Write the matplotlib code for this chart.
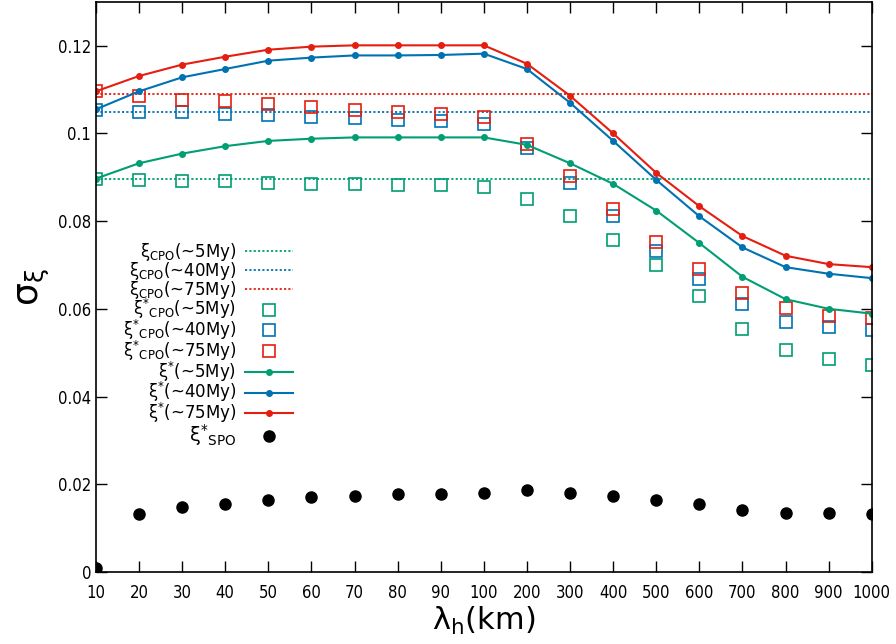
import numpy as np
import matplotlib as mpl
mpl.use("Agg")
import matplotlib.pyplot as plt

mpl.rcParams["xtick.top"] = mpl.rcParams["ytick.right"] = True
mpl.rcParams["xtick.direction"] = mpl.rcParams["ytick.direction"] = "in"
mpl.rcParams["mathtext.default"] = "regular"

# x categories (lambda_h in km)
lam = ["10", "20", "30", "40", "50", "60", "70", "80", "90", "100",
       "200", "300", "400", "500", "600", "700", "800", "900", "1000"]

# xi_CPO reference levels
cpo_5 = 0.0897
cpo_40 = 0.1048
cpo_75 = 0.1089

# xi*_CPO (open squares)
cpo_star_5 = [0.0897, 0.0894, 0.0891, 0.0891, 0.0888, 0.0885, 0.0885, 0.0882, 0.0882, 0.0879,
              0.0850, 0.0811, 0.0756, 0.0699, 0.0629, 0.0555, 0.0507, 0.0485, 0.0472]
cpo_star_40 = [0.1054, 0.1049, 0.1048, 0.1044, 0.1041, 0.1038, 0.1035, 0.1031, 0.1028, 0.1022,
               0.0967, 0.0887, 0.0811, 0.0733, 0.0667, 0.0610, 0.0571, 0.0558, 0.0552]
cpo_star_75 = [0.1096, 0.1085, 0.1077, 0.1074, 0.1067, 0.1060, 0.1054, 0.1048, 0.1044, 0.1038,
               0.0975, 0.0903, 0.0827, 0.0753, 0.0690, 0.0635, 0.0601, 0.0584, 0.0578]

# xi* (lines with dots)
star_5 = [0.0897, 0.0932, 0.0954, 0.0971, 0.0983, 0.0988, 0.0991, 0.0991, 0.0991, 0.0991,
          0.0974, 0.0932, 0.0885, 0.0824, 0.0750, 0.0673, 0.0622, 0.0600, 0.0589]
star_40 = [0.1055, 0.1096, 0.1128, 0.1147, 0.1166, 0.1173, 0.1178, 0.1178, 0.1179, 0.1182,
           0.1147, 0.1070, 0.0983, 0.0894, 0.0811, 0.0740, 0.0695, 0.0680, 0.0670]
star_75 = [0.1096, 0.1131, 0.1157, 0.1175, 0.1191, 0.1198, 0.1201, 0.1201, 0.1201, 0.1201,
           0.1159, 0.1086, 0.1000, 0.0910, 0.0834, 0.0766, 0.0721, 0.0702, 0.0695]

# xi*_SPO (black dots)
spo = [0.0008, 0.0131, 0.0148, 0.0154, 0.0164, 0.0170, 0.0173, 0.0177, 0.0177, 0.0180,
       0.0186, 0.0180, 0.0173, 0.0164, 0.0154, 0.0141, 0.0135, 0.0135, 0.0131]

GREEN = "#009e73"
BLUE = "#0072b2"
RED = "#e51e10"


def main():
	fig = plt.figure(figsize=(8.96, 6.44), dpi=100)
	ax = fig.add_axes([0.107, 0.112, 0.866, 0.885])
	x = np.arange(len(lam))

	for lvl, c, lab in [(cpo_5, GREEN, r"$\xi_{CPO}$(~5My)"),
	                    (cpo_40, BLUE, r"$\xi_{CPO}$(~40My)"),
	                    (cpo_75, RED, r"$\xi_{CPO}$(~75My)")]:
		ax.plot([x[0], x[-1]], [lvl, lvl], color=c, lw=1.3, ls=(0, (1.2, 1.2)), label=lab)

	for ys, c, lab in [(cpo_star_5, GREEN, r"$\xi^{*}{}_{CPO}$(~5My)"),
	                   (cpo_star_40, BLUE, r"$\xi^{*}{}_{CPO}$(~40My)"),
	                   (cpo_star_75, RED, r"$\xi^{*}{}_{CPO}$(~75My)")]:
		ax.plot(x, ys, ls="none", marker="s", ms=8, mfc="none", mec=c, mew=1.2, label=lab)

	for ys, c, lab in [(star_5, GREEN, r"$\xi^{*}$(~5My)"),
	                   (star_40, BLUE, r"$\xi^{*}$(~40My)"),
	                   (star_75, RED, r"$\xi^{*}$(~75My)")]:
		ax.plot(x, ys, color=c, lw=1.5, marker="o", ms=4, label=lab)

	ax.plot(x, spo, ls="none", marker="o", ms=8, color="black", label=r"$\xi^{*}{}_{SPO}$")

	ax.set_xlim(0, len(lam) - 1)
	ax.set_ylim(0, 0.13)
	ax.set_xticks(x)
	ax.set_xticklabels(lam)
	ax.set_yticks([0, 0.02, 0.04, 0.06, 0.08, 0.1, 0.12])
	ax.set_yticklabels(["0", "0.02", "0.04", "0.06", "0.08", "0.1", "0.12"])
	ax.tick_params(labelsize=12, length=8, width=1)
	ax.tick_params(axis="x", pad=9)
	for t in ax.get_xticklabels() + ax.get_yticklabels():
		t.set_fontstretch("condensed")
	for s in ax.spines.values():
		s.set_linewidth(1.2)

	ax.set_xlabel(r"$\lambda_h$(km)", fontsize=22, labelpad=2)
	ax.set_ylabel(r"$\sigma_\xi$", fontsize=26, labelpad=4)

	leg = ax.legend(loc="upper right", bbox_to_anchor=(0.254, 0.58), frameon=False,
	                markerfirst=False, fontsize=12, handlelength=2.9, handletextpad=0.5,
	                labelspacing=-0.2, borderpad=0, borderaxespad=0, alignment="right")
	for t in leg.get_texts():
		t.set_ha("right")
	spo_txt = leg.get_texts()[-1]
	spo_txt.set_math_fontfamily("stix")
	spo_txt.set_fontsize(14)

	fig.savefig("out.png")


if __name__ == "__main__":
	main()
